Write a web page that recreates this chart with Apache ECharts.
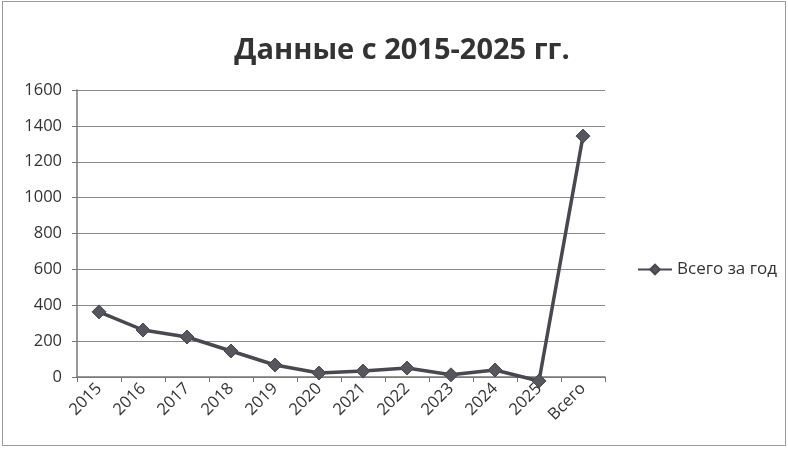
<!DOCTYPE html>
<html><head><meta charset="utf-8">
<script src="https://cdn.jsdelivr.net/npm/echarts@6/dist/echarts.min.js"></script>
<style>
html,body{margin:0;padding:0;background:#fff;}
#c{width:788px;height:450px;}
#frame{position:absolute;left:2px;top:1px;width:782px;height:443px;border:1px solid #9a9a9a;pointer-events:none;}
</style></head>
<body>
<div id="c"></div><div id="frame"></div>
<script>
const categories = ['2015','2016','2017','2018','2019','2020','2021','2022','2023','2024','2025','Всего'];
const values = [363, 262, 223, 145, 67, 22, 33, 50, 12, 39, -22, 1343];
const seriesName = 'Всего за год';
const titleText = 'Данные с 2015-2025 гг.';
const yTicks = {min:0, max:1600, interval:200};

const font = '"Open Sans", "Noto Sans", sans-serif';
const chart = echarts.init(document.getElementById('c'));
chart.setOption({
  animation:false,
  title:{text:titleText, left:397, top:31, textAlign:'center',
    textStyle:{fontFamily:font, fontWeight:'bold', fontSize:29, color:'#333'}},
  legend:{data:[seriesName], left:632, top:256, orient:'vertical', itemWidth:34, itemHeight:12,
    itemGap:4, textStyle:{fontFamily:font, fontSize:17, color:'#333'}},
  grid:{left:77, right:183, top:90, bottom:73},
  xAxis:{type:'category', data:categories, boundaryGap:true,
    axisLine:{lineStyle:{color:'#777', width:1.5}},
    axisTick:{show:true, length:5, lineStyle:{color:'#777'}},
    axisLabel:{rotate:45, fontFamily:font, fontSize:16.5, color:'#333', margin:9, interval:0}},
  yAxis:{type:'value', min:yTicks.min, max:yTicks.max, interval:yTicks.interval,
    axisLine:{show:true, lineStyle:{color:'#777', width:1.5}},
    axisTick:{show:true, length:5, lineStyle:{color:'#777'}},
    splitLine:{lineStyle:{color:'#8a8a8a', width:1}},
    axisLabel:{fontFamily:font, fontSize:16.5, color:'#333', margin:15, formatter:v=>String(v)}},
  series:[{name:seriesName, type:'line', data:values, clip:false,
    symbol:'diamond', symbolSize:14,
    lineStyle:{color:'#48484f', width:3.5},
    itemStyle:{color:'#56565f', borderColor:'#48484f', borderWidth:1}}]
});
</script>
</body></html>
